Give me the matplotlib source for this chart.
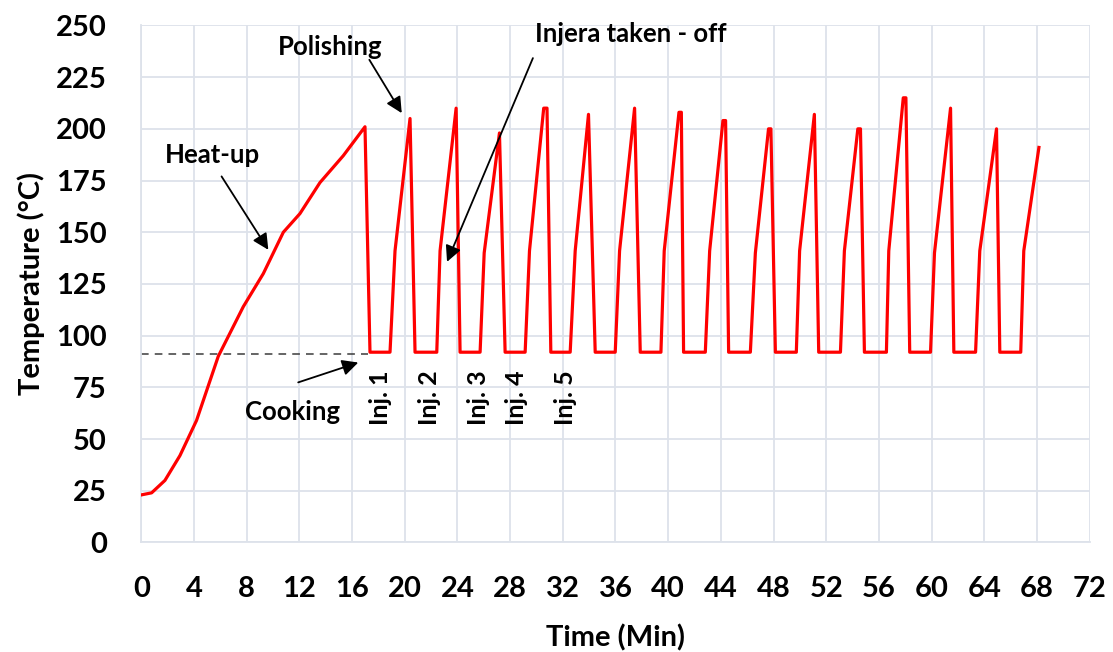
import matplotlib
matplotlib.use("Agg")
import matplotlib.pyplot as plt

# Griddle surface temperature during heat-up and successive injera bakes
time_min = [
    0.0, 0.78, 1.79, 2.93, 4.19, 5.84, 7.74, 9.26, 10.78, 12.04, 13.56, 15.33, 16.98,
    17.36, 18.88, 19.26, 20.4,
    20.78, 22.43, 22.68, 23.9,
    24.2, 25.72, 26.03, 27.19,
    27.62, 29.14, 29.47, 30.55, 30.8,
    31.09, 32.56, 32.94, 33.95,
    34.46, 35.98, 36.31, 37.45,
    37.88, 39.45, 39.7, 40.82, 41.0,
    41.17, 42.82, 43.15, 44.16, 44.36,
    44.59, 46.24, 46.62, 47.62, 47.8,
    48.14, 49.73, 49.98, 51.1,
    51.43, 53.08, 53.38, 54.4, 54.6,
    54.9, 56.57, 56.75, 57.85, 58.05,
    58.34, 59.92, 60.22, 61.44,
    61.69, 63.34, 63.66, 64.93,
    65.18, 66.77, 67.0, 68.15,
]
temperature_c = [
    23, 24, 30, 42, 59, 90, 114, 130, 150, 159, 174, 187, 201,
    92, 92, 141, 205,
    92, 92, 141, 210,
    92, 92, 140, 198,
    92, 92, 141, 210, 210,
    92, 92, 141, 207,
    92, 92, 141, 210,
    92, 92, 141, 208, 208,
    92, 92, 141, 204, 204,
    92, 92, 140, 200, 200,
    92, 92, 141, 207,
    92, 92, 141, 200, 200,
    92, 92, 141, 215, 215,
    92, 92, 140, 210,
    92, 92, 141, 200,
    92, 92, 141, 191,
]

cooking_level = 91
cooking_end = 17.23

x_ticks = list(range(0, 73, 4))
y_ticks = list(range(0, 251, 25))

inj_labels = ["Inj. 1", "Inj. 2", "Inj. 3", "Inj. 4", "Inj. 5"]
inj_times = [18.12, 21.9, 25.57, 28.5, 32.18]
inj_level = 70

plt.rcParams["font.family"] = ["Lato", "DejaVu Sans"]
plt.rcParams["font.weight"] = "bold"

fig = plt.figure(figsize=(11.13, 6.52), dpi=100)
ax = fig.add_axes([0.127, 0.168, 0.852, 0.793])

grid_color = "#dde2ea"
ax.set_axisbelow(True)
ax.grid(True, color=grid_color, linewidth=1.3)
for side in ["top", "right"]:
    ax.spines[side].set_visible(False)
for side in ["left", "bottom"]:
    ax.spines[side].set_color(grid_color)
    ax.spines[side].set_linewidth(1.3)

ax.plot(time_min, temperature_c, color="#ff0000", linewidth=2.3,
        solid_joinstyle="round", zorder=3)
ax.plot([0, cooking_end], [cooking_level, cooking_level], color="#3a3a3a",
        linewidth=1.1, linestyle=(0, (5, 4)), zorder=2)

ax.set_xlim(0, 72)
ax.set_ylim(0, 250)
ax.set_xticks(x_ticks)
ax.set_yticks(y_ticks)
ax.tick_params(axis="both", length=0, labelsize=21, colors="black")
ax.tick_params(axis="x", pad=24)
ax.tick_params(axis="y", pad=25)
for lab in ax.get_xticklabels() + ax.get_yticklabels():
    lab.set_fontweight("bold")

ax.set_xlabel("Time (Min)", fontsize=21, fontweight="bold", labelpad=16)
ax.set_ylabel("Temperature (\u00b0C)", fontsize=21, fontweight="bold", labelpad=8)

arrow_kw = dict(arrowstyle="-|>", color="black", lw=1.3, mutation_scale=24,
                shrinkA=0, shrinkB=0)
text_kw = dict(fontsize=18.5, fontweight="bold", ha="center", va="center", color="black")

# Stage annotations
ax.text(14.36, 239.5, "Polishing", **text_kw)
ax.annotate("", xy=(19.77, 207.6), xytext=(17.31, 233.4), arrowprops=arrow_kw)

ax.text(37.16, 246, "Injera taken - off", **text_kw)
ax.annotate("", xy=(23.21, 135.7), xytext=(29.73, 234.2), arrowprops=arrow_kw)

ax.text(5.4, 187.5, "Heat-up", **text_kw)
ax.annotate("", xy=(9.64, 141.5), xytext=(6.09, 177), arrowprops=arrow_kw)

ax.text(11.51, 63.2, "Cooking", **text_kw)
ax.annotate("", xy=(16.47, 87), xytext=(11.91, 77.4), arrowprops=arrow_kw)

inj_kw = dict(text_kw, fontsize=18)
for label, t in zip(inj_labels, inj_times):
    ax.text(t, inj_level, label, rotation=90, **inj_kw)

fig.savefig("out.png", dpi=100, facecolor="white")
